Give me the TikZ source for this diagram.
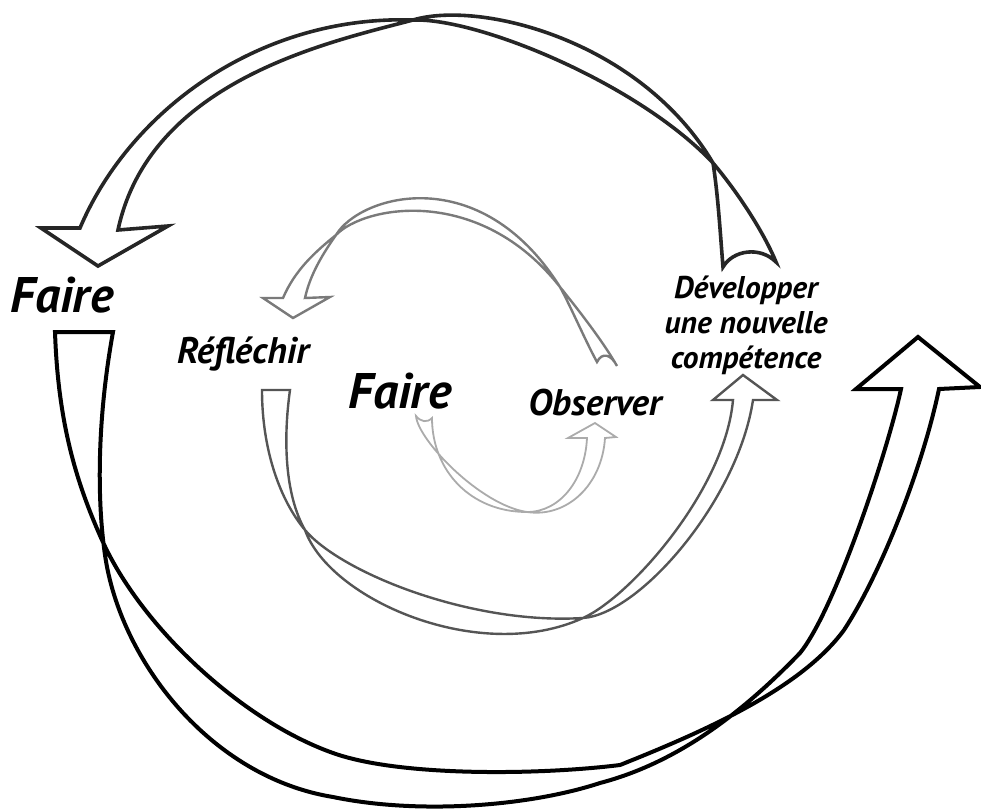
\documentclass[tikz,border=0pt]{standalone}
\usepackage{fontspec}
\setmainfont{PT Sans}
\definecolor{ribbonA}{HTML}{262626}
\definecolor{ribbonB}{HTML}{7A7A7A}
\definecolor{ribbonC}{HTML}{555555}
\definecolor{ribbonD}{HTML}{000000}
\definecolor{ribbonE}{HTML}{ABABAB}
\begin{document}
\begin{tikzpicture}[x=0.5pt,y=-0.5pt,
  ribbon/.style={draw=#1,line join=miter},
  lbl/.style={font=\bfseries\itshape\fontsize{15.7}{17.5}\selectfont,align=center,inner sep=0pt},
  midlbl/.style={font=\bfseries\itshape\fontsize{18.5}{20}\selectfont,inner sep=0pt},
  biglbl/.style={font=\bfseries\itshape\fontsize{25}{28}\selectfont,inner sep=0pt}]
  \useasboundingbox (0,0) rectangle (981,809);
  % labels
  \node[biglbl,anchor=base] (faireL) at (62,312) {Faire};
  \node[biglbl,anchor=base] (faireC) at (400,408) {Faire};
  \node[midlbl,anchor=base] (reflechir) at (243,363) {Réfléchir};
  \node[midlbl,anchor=base] (observer) at (595,415) {Observer};
  \node[lbl,anchor=north] (developper) at (746,275) {Développer\\une nouvelle\\compétence};
  % outer ribbon, top: Developper -> Faire
  \draw[ribbon=ribbonA,line width=1.8pt]
    (776,262) .. controls (765,235) and (740,195) .. (713,163)
    .. controls (640,85) and (480,18) .. (413,20)
    .. controls (260,15) and (130,110) .. (80,228)
    -- (41,228) -- (98,266) -- (168,226) -- (118,230)
    .. controls (150,80) and (330,42) .. (413,20)
    .. controls (480,0) and (640,40) .. (713,163)
    .. controls (718,195) and (720,230) .. (723,267)
    .. controls (733,250) and (760,246) .. (776,262) -- cycle;
  % outer ribbon, bottom: Faire -> up
  \draw[ribbon=ribbonD,line width=2pt]
    (55,332) .. controls (58,420) and (75,480) .. (102,540)
    .. controls (140,625) and (240,720) .. (333,753)
    .. controls (400,777) and (540,775) .. (620,765)
    .. controls (700,733) and (800,690) .. (844,630)
    .. controls (880,575) and (922,470) .. (939,389)
    -- (980,387) -- (918,337) -- (856,389) -- (901,389)
    .. controls (888,450) and (835,610) .. (800,653)
    .. controls (745,710) and (680,762) .. (600,783)
    .. controls (530,806) and (420,815) .. (333,797)
    .. controls (210,777) and (120,660) .. (105,555)
    .. controls (97,500) and (97,420) .. (113,332) -- cycle;
  % middle ribbon, top: Observer -> Reflechir
  \draw[ribbon=ribbonB,line width=1.2pt]
    (617,366) .. controls (605,345) and (585,318) .. (560,287)
    .. controls (480,185) and (365,205) .. (336,235)
    .. controls (315,252) and (295,270) .. (283,298)
    -- (263,298) -- (293,318) -- (330,297) -- (305,298)
    .. controls (310,275) and (322,255) .. (336,235)
    .. controls (360,195) and (480,160) .. (560,287)
    .. controls (570,305) and (585,340) .. (597,362)
    .. controls (602,352) and (611,354) .. (617,366) -- cycle;
  % middle ribbon, bottom: Reflechir -> Developper
  \draw[ribbon=ribbonC,line width=1.2pt]
    (262,390) .. controls (262,450) and (280,500) .. (305,530)
    .. controls (340,572) and (470,625) .. (583,618)
    .. controls (640,614) and (738,500) .. (753,400)
    -- (777,400) -- (743,375) -- (713,400) -- (733,400)
    .. controls (725,490) and (630,597) .. (583,618)
    .. controls (480,665) and (330,600) .. (305,530)
    .. controls (285,495) and (283,440) .. (290,390) -- cycle;
  % inner ribbon: Faire -> Observer
  \draw[ribbon=ribbonE,line width=0.9pt]
    (416,416) .. controls (418,440) and (480,505) .. (527,512)
    .. controls (567,518) and (602,485) .. (605,438)
    -- (616,437) -- (595,423) -- (568,438) -- (587,438)
    .. controls (585,480) and (560,512) .. (527,512)
    .. controls (470,512) and (432,470) .. (432,418)
    .. controls (427,423) and (421,422) .. (416,416) -- cycle;
\end{tikzpicture}
\end{document}
